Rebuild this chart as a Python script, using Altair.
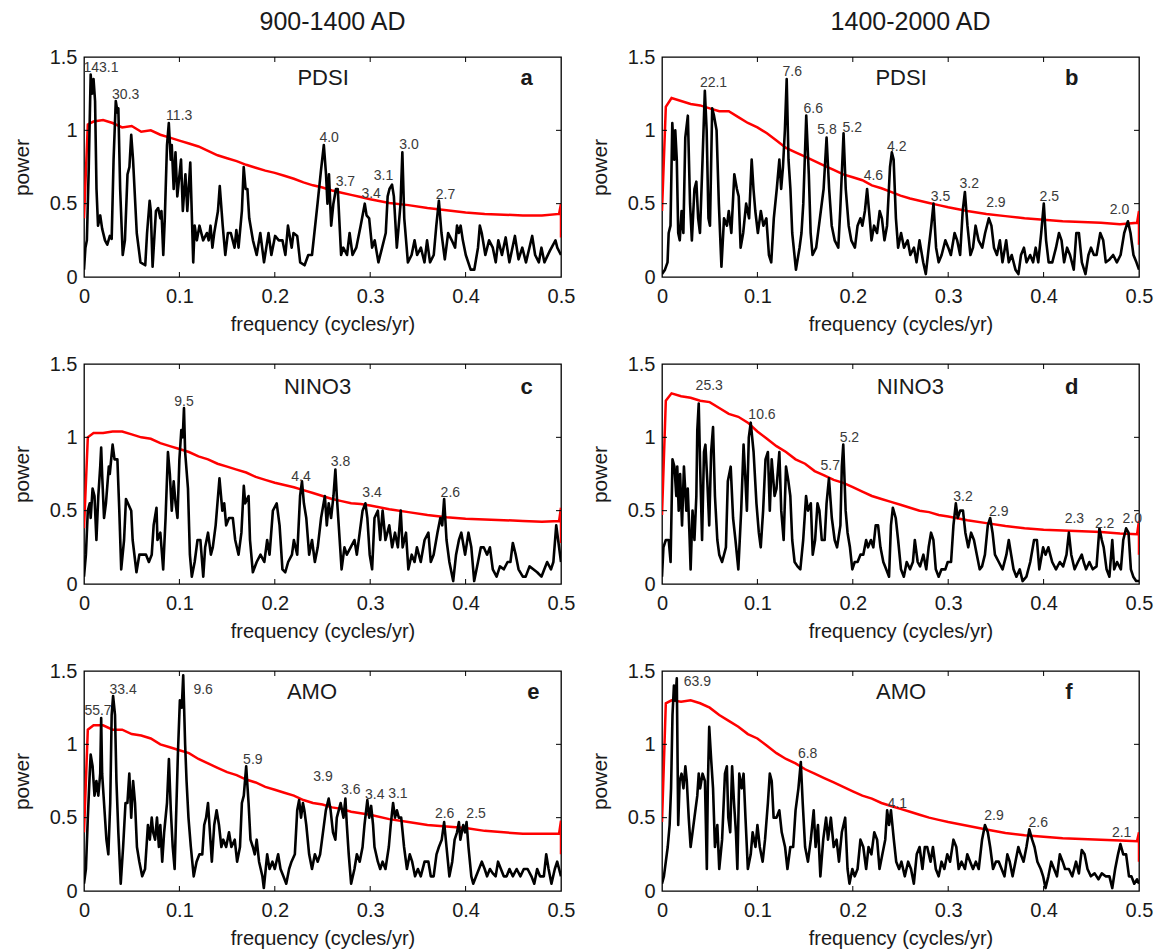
import altair as alt
import pandas as pd

FONT = "Liberation Sans"
TXT = "#1a1a1a"

X_TICK_LABELS = [0, 0.1, 0.2, 0.3, 0.4, 0.5]
Y_TICK_LABELS = [0, 0.5, 1.0, 1.5]
X_INNER_TICKS = [0.1, 0.2, 0.3, 0.4]
Y_INNER_TICKS = [0.5, 1.0]
COLUMN_TITLES = ["900-1400 AD", "1400-2000 AD"]

# red curve frequencies (shared by all panels)
RED_FREQ = [0, 0.004, 0.01, 0.02, 0.03, 0.04, 0.05, 0.06, 0.07, 0.08, 0.09, 0.1,
            0.11, 0.12, 0.13, 0.14, 0.15, 0.16, 0.17, 0.18, 0.19, 0.2, 0.21, 0.22,
            0.23, 0.24, 0.25, 0.26, 0.27, 0.28, 0.29, 0.3, 0.32, 0.34, 0.36, 0.38,
            0.4, 0.42, 0.44, 0.46, 0.48, 0.498, 0.5, 0.5]

# ---------------- panel a : PDSI 900-1400 ----------------
a_black = [(0, 0.05), (0.0015, 0.2), (0.003, 0.25), (0.005, 0.75), (0.007, 1.38), (0.0085, 1.25),
           (0.010, 1.35), (0.0116, 1.2), (0.0131, 0.6), (0.0147, 0.35), (0.017, 0.42), (0.019, 0.33),
           (0.022, 0.25), (0.0244, 0.22), (0.0271, 0.28), (0.029, 0.26), (0.031, 0.8), (0.0333, 1.2),
           (0.0352, 1.12), (0.036, 1.15), (0.0379, 0.6), (0.0406, 0.15), (0.0429, 0.25), (0.0456, 0.7),
           (0.0476, 0.75), (0.0495, 0.97), (0.0514, 0.8), (0.0553, 0.3), (0.0592, 0.1), (0.0642, 0.08),
           (0.0661, 0.3), (0.0688, 0.52), (0.070, 0.45), (0.0719, 0.07), (0.0754, 0.45), (0.0777, 0.47),
           (0.080, 0.4), (0.0812, 0.45), (0.0831, 0.15), (0.0847, 0.4), (0.087, 0.9), (0.0889, 1.05),
           (0.0909, 0.8), (0.092, 0.9), (0.094, 0.6), (0.0959, 0.85), (0.0978, 0.55), (0.1017, 0.8),
           (0.1036, 0.45), (0.1063, 0.7), (0.1083, 0.45), (0.1114, 0.78), (0.1145, 0.1), (0.116, 0.35),
           (0.1183, 0.25), (0.121, 0.35), (0.1249, 0.25), (0.1288, 0.3), (0.1307, 0.25), (0.1326, 0.35),
           (0.1346, 0.2), (0.1365, 0.3), (0.1404, 0.45), (0.1423, 0.62), (0.1454, 0.35), (0.1481, 0.15),
           (0.1508, 0.3), (0.1539, 0.3), (0.1578, 0.2), (0.1597, 0.32), (0.162, 0.2), (0.1655, 0.45),
           (0.1674, 0.75), (0.1694, 0.6), (0.1713, 0.6), (0.1732, 0.4), (0.1771, 0.25), (0.181, 0.15),
           (0.1848, 0.3), (0.1887, 0.1), (0.1934, 0.3), (0.1964, 0.15), (0.2003, 0.28), (0.2042, 0.25),
           (0.208, 0.25), (0.2111, 0.15), (0.2138, 0.35), (0.2177, 0.2), (0.2196, 0.3), (0.2235, 0.28),
           (0.2266, 0.1), (0.2312, 0.08), (0.2351, 0.15), (0.239, 0.15), (0.2448, 0.5), (0.2483, 0.72),
           (0.2514, 0.9), (0.2537, 0.7), (0.2552, 0.5), (0.2568, 0.7), (0.2591, 0.35), (0.2614, 0.5),
           (0.2641, 0.6), (0.266, 0.6), (0.2695, 0.15), (0.2718, 0.2), (0.2757, 0.15), (0.2784, 0.3),
           (0.2815, 0.15), (0.2854, 0.2), (0.29, 0.35), (0.2943, 0.5), (0.2962, 0.42), (0.2989, 0.4),
           (0.302, 0.2), (0.3047, 0.25), (0.3086, 0.1), (0.3125, 0.2), (0.3163, 0.3), (0.3183, 0.55),
           (0.3202, 0.6), (0.3229, 0.63), (0.3248, 0.55), (0.3279, 0.2), (0.3299, 0.35), (0.3318, 0.5),
           (0.3337, 0.85), (0.3357, 0.4), (0.3395, 0.1), (0.3434, 0.15), (0.3465, 0.25), (0.3492, 0.15),
           (0.3531, 0.2), (0.3569, 0.1), (0.3596, 0.25), (0.3627, 0.1), (0.3666, 0.15), (0.3693, 0.35),
           (0.372, 0.52), (0.3747, 0.3), (0.3782, 0.12), (0.3817, 0.3), (0.3855, 0.25), (0.389, 0.2),
           (0.391, 0.35), (0.3929, 0.3), (0.3948, 0.35), (0.3971, 0.25), (0.4002, 0.15), (0.4053, 0.05),
           (0.4091, 0.05), (0.413, 0.2), (0.4149, 0.35), (0.4169, 0.3), (0.4207, 0.15), (0.4246, 0.25),
           (0.4285, 0.2), (0.4316, 0.1), (0.4343, 0.25), (0.4381, 0.15), (0.442, 0.27), (0.4459, 0.1),
           (0.4517, 0.28), (0.4555, 0.12), (0.4594, 0.2), (0.4633, 0.1), (0.4698, 0.28), (0.4729, 0.15),
           (0.4768, 0.1), (0.4795, 0.2), (0.4826, 0.1), (0.4884, 0.18), (0.4942, 0.25), (0.4961, 0.2),
           (0.5, 0.15)]
a_red = [0.4, 1.04, 1.06, 1.07, 1.05, 1.02, 1.03, 0.99, 1.0, 0.97, 0.95, 0.93, 0.91, 0.89, 0.86,
         0.83, 0.81, 0.79, 0.765, 0.745, 0.725, 0.71, 0.69, 0.67, 0.645, 0.625, 0.61, 0.59, 0.575,
         0.56, 0.545, 0.53, 0.505, 0.49, 0.47, 0.455, 0.44, 0.43, 0.425, 0.42, 0.42, 0.43, 0.5, 0.27]
a_peaks = [("143.1", 0.0178, 1.425), ("30.3", 0.0437, 1.243), ("11.3", 0.0998, 1.098),
           ("4.0", 0.257, 0.948), ("3.7", 0.274, 0.648), ("3.4", 0.301, 0.568),
           ("3.1", 0.314, 0.689), ("3.0", 0.3407, 0.898), ("2.7", 0.379, 0.561)]

# ---------------- panel b : PDSI 1400-2000 ----------------
b_black = [(0, 0.02), (0.0031, 0.05), (0.0058, 0.1), (0.007, 0.3), (0.0089, 0.35), (0.0108, 1.05),
           (0.0128, 0.8), (0.0139, 1.0), (0.0155, 0.8), (0.017, 0.3), (0.0186, 0.25), (0.0205, 0.45),
           (0.0224, 0.3), (0.0244, 0.95), (0.0271, 1.1), (0.0294, 0.5), (0.0313, 0.25), (0.034, 0.6),
           (0.036, 0.65), (0.0379, 0.4), (0.0398, 0.3), (0.0425, 0.8), (0.0449, 1.27), (0.0468, 1.0),
           (0.0487, 0.4), (0.0503, 0.35), (0.0526, 1.15), (0.0545, 1.1), (0.0572, 1.0), (0.0596, 0.5),
           (0.0623, 0.07), (0.065, 0.4), (0.0681, 0.35), (0.07, 0.45), (0.0727, 0.3), (0.0758, 0.7),
           (0.0785, 0.6), (0.0804, 0.55), (0.0824, 0.2), (0.0851, 0.3), (0.0882, 0.5), (0.0913, 0.4),
           (0.094, 0.8), (0.0959, 0.6), (0.0978, 0.45), (0.1005, 0.3), (0.1036, 0.45), (0.1063, 0.35),
           (0.1094, 0.4), (0.1121, 0.15), (0.1145, 0.1), (0.1172, 0.4), (0.1203, 0.6), (0.123, 0.8),
           (0.1249, 0.6), (0.1268, 0.75), (0.1288, 1.0), (0.1307, 1.35), (0.1326, 0.8), (0.1346, 0.6),
           (0.1365, 0.3), (0.1404, 0.05), (0.1442, 0.2), (0.1462, 0.3), (0.1481, 0.5), (0.1512, 1.1),
           (0.1539, 0.7), (0.1558, 0.3), (0.1578, 0.15), (0.1616, 0.2), (0.1655, 0.4), (0.1694, 0.6),
           (0.1725, 0.95), (0.1752, 0.6), (0.1779, 0.35), (0.181, 0.25), (0.1848, 0.2), (0.1868, 0.45),
           (0.1903, 0.98), (0.1926, 0.6), (0.1957, 0.35), (0.1984, 0.25), (0.2022, 0.2), (0.205, 0.35),
           (0.208, 0.4), (0.21, 0.35), (0.2127, 0.45), (0.215, 0.6), (0.2177, 0.4), (0.2196, 0.25),
           (0.2223, 0.35), (0.2254, 0.3), (0.2282, 0.45), (0.2305, 0.4), (0.2332, 0.25), (0.2359, 0.35),
           (0.239, 0.75), (0.2409, 0.85), (0.2428, 0.8), (0.2452, 0.4), (0.2475, 0.2), (0.2506, 0.3),
           (0.2537, 0.2), (0.2575, 0.25), (0.2603, 0.15), (0.2641, 0.2), (0.2668, 0.1), (0.2699, 0.25),
           (0.2738, 0.1), (0.2765, 0.02), (0.2796, 0.2), (0.2823, 0.35), (0.2846, 0.5), (0.2873, 0.2),
           (0.29, 0.1), (0.2931, 0.15), (0.297, 0.25), (0.3001, 0.2), (0.3028, 0.15), (0.3067, 0.3),
           (0.3094, 0.25), (0.3125, 0.15), (0.3152, 0.45), (0.3175, 0.58), (0.3202, 0.35), (0.3233, 0.15),
           (0.326, 0.2), (0.3287, 0.35), (0.3318, 0.25), (0.3357, 0.2), (0.3387, 0.3), (0.3426, 0.4),
           (0.3453, 0.35), (0.348, 0.2), (0.3511, 0.15), (0.3542, 0.25), (0.3569, 0.1), (0.3608, 0.25),
           (0.3635, 0.1), (0.3666, 0.15), (0.3705, 0.05), (0.3736, 0.02), (0.3763, 0.15), (0.3794, 0.2),
           (0.3821, 0.1), (0.3859, 0.15), (0.389, 0.1), (0.3917, 0.2), (0.3944, 0.1), (0.3975, 0.3),
           (0.4002, 0.5), (0.4026, 0.25), (0.4053, 0.1), (0.4091, 0.1), (0.413, 0.2), (0.4161, 0.3),
           (0.4188, 0.25), (0.4215, 0.1), (0.4246, 0.2), (0.4277, 0.15), (0.4316, 0.05), (0.4343, 0.3),
           (0.437, 0.3), (0.4401, 0.1), (0.4439, 0.02), (0.447, 0.15), (0.4497, 0.2), (0.4528, 0.15),
           (0.4555, 0.15), (0.4594, 0.3), (0.4625, 0.25), (0.4652, 0.1), (0.4691, 0.12), (0.4729, 0.15),
           (0.4768, 0.1), (0.4807, 0.15), (0.4845, 0.3), (0.4884, 0.38), (0.4911, 0.3), (0.4942, 0.15),
           (0.4973, 0.1), (0.5, 0.05)]
b_red = [0.45, 1.16, 1.22, 1.2, 1.18, 1.17, 1.15, 1.13, 1.13, 1.09, 1.05, 1.02, 0.98, 0.93, 0.88,
         0.85, 0.82, 0.79, 0.76, 0.73, 0.7, 0.68, 0.66, 0.625, 0.605, 0.58, 0.555, 0.535, 0.52,
         0.505, 0.49, 0.475, 0.45, 0.43, 0.415, 0.4, 0.39, 0.38, 0.375, 0.37, 0.36, 0.37, 0.45, 0.22]
b_peaks = [("22.1", 0.054, 1.323), ("7.6", 0.1365, 1.398), ("6.6", 0.1585, 1.143),
           ("5.8", 0.173, 1.0), ("5.2", 0.1995, 1.016), ("4.6", 0.2216, 0.686),
           ("4.2", 0.246, 0.886), ("3.5", 0.292, 0.545), ("3.2", 0.322, 0.632),
           ("2.9", 0.350, 0.505), ("2.5", 0.406, 0.545), ("2.0", 0.4795, 0.455)]

# ---------------- panel c : NINO3 900-1400 ----------------
c_black = [(0, 0.05), (0.002, 0.2), (0.004, 0.5), (0.006, 0.55), (0.007, 0.45), (0.009, 0.65),
           (0.011, 0.6), (0.013, 0.3), (0.015, 0.6), (0.017, 0.8), (0.018, 0.93), (0.019, 0.75),
           (0.021, 0.45), (0.023, 0.55), (0.026, 0.8), (0.027, 0.75), (0.030, 0.95), (0.032, 0.85),
           (0.035, 0.85), (0.037, 0.5), (0.039, 0.1), (0.042, 0.3), (0.044, 0.58), (0.046, 0.55),
           (0.0495, 0.5), (0.051, 0.3), (0.055, 0.08), (0.058, 0.2), (0.061, 0.2), (0.065, 0.2),
           (0.068, 0.15), (0.071, 0.2), (0.073, 0.4), (0.076, 0.52), (0.077, 0.3), (0.080, 0.35),
           (0.083, 0.1), (0.0855, 0.45), (0.088, 0.9), (0.090, 0.75), (0.092, 0.5), (0.094, 0.7),
           (0.096, 0.55), (0.098, 0.45), (0.100, 0.85), (0.102, 1.05), (0.1035, 1.0), (0.1048, 1.2),
           (0.106, 0.9), (0.109, 0.65), (0.111, 0.2), (0.113, 0.05), (0.116, 0.15), (0.119, 0.3),
           (0.122, 0.3), (0.125, 0.05), (0.127, 0.25), (0.130, 0.35), (0.133, 0.2), (0.135, 0.25),
           (0.138, 0.4), (0.142, 0.72), (0.145, 0.5), (0.147, 0.55), (0.149, 0.4), (0.152, 0.45),
           (0.156, 0.45), (0.1585, 0.3), (0.162, 0.2), (0.165, 0.35), (0.1675, 0.67), (0.169, 0.55),
           (0.1725, 0.6), (0.174, 0.3), (0.177, 0.08), (0.181, 0.15), (0.185, 0.2), (0.189, 0.15),
           (0.192, 0.3), (0.1945, 0.2), (0.198, 0.5), (0.202, 0.55), (0.205, 0.4), (0.208, 0.1),
           (0.211, 0.08), (0.214, 0.15), (0.218, 0.2), (0.220, 0.3), (0.2235, 0.2), (0.2265, 0.6),
           (0.2285, 0.7), (0.2305, 0.55), (0.233, 0.45), (0.236, 0.2), (0.239, 0.3), (0.242, 0.15),
           (0.245, 0.25), (0.2485, 0.45), (0.2525, 0.6), (0.2545, 0.4), (0.2565, 0.55), (0.259, 0.45),
           (0.2615, 0.6), (0.2635, 0.78), (0.265, 0.6), (0.268, 0.3), (0.270, 0.1), (0.273, 0.25),
           (0.2755, 0.2), (0.2795, 0.25), (0.2835, 0.3), (0.286, 0.2), (0.289, 0.35), (0.292, 0.5),
           (0.295, 0.55), (0.297, 0.45), (0.2995, 0.2), (0.302, 0.1), (0.3045, 0.45), (0.308, 0.5),
           (0.3105, 0.3), (0.313, 0.5), (0.316, 0.3), (0.320, 0.4), (0.323, 0.25), (0.326, 0.35),
           (0.329, 0.25), (0.332, 0.5), (0.334, 0.25), (0.3375, 0.35), (0.340, 0.1), (0.3435, 0.2),
           (0.3465, 0.15), (0.349, 0.25), (0.353, 0.15), (0.357, 0.3), (0.361, 0.35), (0.3635, 0.15),
           (0.3665, 0.2), (0.3705, 0.35), (0.3735, 0.45), (0.3755, 0.4), (0.3775, 0.58), (0.380, 0.3),
           (0.383, 0.15), (0.387, 0.02), (0.390, 0.2), (0.393, 0.3), (0.3955, 0.35), (0.3995, 0.2),
           (0.403, 0.35), (0.406, 0.25), (0.409, 0.02), (0.413, 0.15), (0.416, 0.25), (0.419, 0.25),
           (0.4225, 0.2), (0.4255, 0.25), (0.4285, 0.1), (0.4325, 0.05), (0.436, 0.12), (0.440, 0.1),
           (0.444, 0.15), (0.447, 0.15), (0.4495, 0.28), (0.4525, 0.2), (0.4555, 0.1), (0.460, 0.05),
           (0.463, 0.05), (0.467, 0.12), (0.471, 0.1), (0.475, 0.08), (0.4795, 0.05), (0.4825, 0.1),
           (0.4855, 0.15), (0.4895, 0.1), (0.492, 0.15), (0.495, 0.4), (0.497, 0.3), (0.5, 0.15)]
c_red = [0.38, 1.0, 1.03, 1.03, 1.04, 1.04, 1.02, 1.0, 0.99, 0.96, 0.94, 0.92, 0.9, 0.87, 0.85,
         0.82, 0.8, 0.78, 0.76, 0.73, 0.71, 0.69, 0.675, 0.66, 0.64, 0.62, 0.6, 0.58, 0.565, 0.55,
         0.545, 0.535, 0.51, 0.49, 0.47, 0.455, 0.445, 0.44, 0.435, 0.43, 0.425, 0.43, 0.52, 0.28]
c_peaks = [("9.5", 0.1048, 1.239), ("4.4", 0.2274, 0.727), ("3.8", 0.2688, 0.83),
           ("3.4", 0.302, 0.62), ("2.6", 0.384, 0.62)]

# ---------------- panel d : NINO3 1400-2000 ----------------
d_black = [(0, 0.05), (0.0015, 0.25), (0.004, 0.3), (0.007, 0.3), (0.009, 0.15), (0.011, 0.85),
           (0.013, 0.8), (0.015, 0.6), (0.016, 0.8), (0.0175, 0.5), (0.019, 0.75), (0.021, 0.4),
           (0.023, 0.8), (0.0255, 0.5), (0.027, 0.65), (0.029, 0.3), (0.030, 0.1), (0.032, 0.5),
           (0.034, 0.3), (0.036, 0.6), (0.037, 1.05), (0.0385, 1.23), (0.040, 0.8), (0.042, 0.3),
           (0.044, 0.9), (0.0455, 0.95), (0.0475, 0.7), (0.0495, 0.4), (0.0515, 0.9), (0.0535, 1.07),
           (0.0555, 0.6), (0.058, 0.3), (0.060, 0.2), (0.063, 0.15), (0.067, 0.25), (0.069, 0.7),
           (0.072, 0.8), (0.0745, 0.45), (0.077, 0.3), (0.080, 0.1), (0.083, 0.5), (0.0855, 0.95),
           (0.0875, 0.7), (0.089, 0.5), (0.091, 1.0), (0.093, 1.1), (0.096, 0.9), (0.099, 0.55),
           (0.1015, 0.35), (0.1035, 0.25), (0.106, 0.5), (0.1085, 0.85), (0.111, 0.9), (0.113, 0.5),
           (0.115, 0.85), (0.118, 0.6), (0.120, 0.65), (0.123, 0.9), (0.125, 0.5), (0.1275, 0.3),
           (0.130, 0.8), (0.1325, 0.7), (0.1345, 0.6), (0.1365, 0.3), (0.139, 0.15), (0.142, 0.12),
           (0.145, 0.1), (0.148, 0.3), (0.151, 0.6), (0.153, 0.5), (0.156, 0.55), (0.158, 0.2),
           (0.1605, 0.3), (0.163, 0.55), (0.165, 0.5), (0.1675, 0.3), (0.1705, 0.3), (0.1725, 0.55),
           (0.175, 0.72), (0.178, 0.45), (0.181, 0.3), (0.1835, 0.25), (0.187, 0.4), (0.1885, 0.8),
           (0.190, 0.95), (0.1925, 0.5), (0.1945, 0.35), (0.197, 0.25), (0.1995, 0.1), (0.202, 0.15),
           (0.205, 0.15), (0.208, 0.2), (0.211, 0.2), (0.214, 0.3), (0.216, 0.25), (0.219, 0.3),
           (0.2215, 0.25), (0.224, 0.4), (0.2265, 0.4), (0.229, 0.25), (0.232, 0.15), (0.235, 0.1),
           (0.238, 0.05), (0.240, 0.4), (0.242, 0.52), (0.245, 0.45), (0.2475, 0.3), (0.2505, 0.1),
           (0.2535, 0.05), (0.2565, 0.15), (0.260, 0.1), (0.263, 0.15), (0.265, 0.3), (0.268, 0.15),
           (0.2705, 0.12), (0.274, 0.2), (0.277, 0.1), (0.2795, 0.25), (0.282, 0.35), (0.2845, 0.3),
           (0.287, 0.1), (0.290, 0.05), (0.293, 0.1), (0.297, 0.1), (0.2995, 0.15), (0.303, 0.15),
           (0.3055, 0.4), (0.308, 0.55), (0.310, 0.45), (0.3125, 0.5), (0.3155, 0.5), (0.318, 0.35),
           (0.321, 0.25), (0.324, 0.35), (0.327, 0.3), (0.330, 0.2), (0.333, 0.1), (0.3355, 0.12),
           (0.3385, 0.2), (0.3415, 0.4), (0.344, 0.45), (0.3465, 0.35), (0.349, 0.2), (0.353, 0.15),
           (0.357, 0.1), (0.361, 0.2), (0.3635, 0.3), (0.366, 0.2), (0.3685, 0.1), (0.3715, 0.05),
           (0.375, 0.1), (0.378, 0.02), (0.382, 0.05), (0.386, 0.15), (0.390, 0.3), (0.393, 0.3),
           (0.3955, 0.1), (0.3995, 0.25), (0.402, 0.2), (0.405, 0.25), (0.409, 0.15), (0.413, 0.1),
           (0.417, 0.15), (0.4205, 0.12), (0.424, 0.2), (0.4265, 0.35), (0.429, 0.2), (0.4325, 0.1),
           (0.436, 0.15), (0.440, 0.2), (0.442, 0.15), (0.4445, 0.1), (0.448, 0.15), (0.4515, 0.1),
           (0.4555, 0.12), (0.4585, 0.38), (0.461, 0.3), (0.463, 0.25), (0.466, 0.1), (0.469, 0.05),
           (0.472, 0.3), (0.474, 0.1), (0.477, 0.15), (0.481, 0.1), (0.4835, 0.3), (0.4865, 0.38),
           (0.489, 0.35), (0.4915, 0.1), (0.494, 0.05), (0.497, 0.02), (0.5, 0.02)]
d_red = [0.47, 1.25, 1.3, 1.28, 1.27, 1.25, 1.24, 1.2, 1.16, 1.14, 1.1, 1.04, 0.99, 0.94, 0.9,
         0.85, 0.82, 0.77, 0.74, 0.71, 0.69, 0.66, 0.63, 0.6, 0.58, 0.56, 0.54, 0.52, 0.5, 0.49,
         0.47, 0.46, 0.435, 0.415, 0.395, 0.38, 0.37, 0.365, 0.36, 0.355, 0.345, 0.34, 0.43, 0.2]
d_peaks = [("25.3", 0.0495, 1.348), ("10.6", 0.1048, 1.155), ("5.2", 0.1964, 0.993),
           ("5.7", 0.1763, 0.802), ("3.2", 0.3155, 0.591), ("2.9", 0.353, 0.489),
           ("2.3", 0.4323, 0.443), ("2.2", 0.464, 0.409), ("2.0", 0.493, 0.443)]

# ---------------- panel e : AMO 900-1400 ----------------
e_black = [(0, 0.05), (0.002, 0.15), (0.004, 0.5), (0.006, 0.8), (0.007, 0.93), (0.009, 0.85),
           (0.011, 0.65), (0.013, 0.75), (0.015, 0.65), (0.017, 0.8), (0.018, 1.18), (0.019, 0.8),
           (0.021, 0.6), (0.0235, 0.35), (0.0255, 0.25), (0.0275, 0.6), (0.029, 1.2), (0.0305, 1.33),
           (0.0325, 1.2), (0.034, 0.75), (0.036, 0.4), (0.0385, 0.05), (0.041, 0.3), (0.0435, 0.6),
           (0.0455, 0.6), (0.0475, 0.8), (0.0495, 0.5), (0.0515, 0.75), (0.0535, 0.6), (0.0555, 0.3),
           (0.058, 0.2), (0.061, 0.1), (0.064, 0.15), (0.067, 0.45), (0.069, 0.35), (0.071, 0.5),
           (0.0725, 0.4), (0.0745, 0.35), (0.0765, 0.5), (0.0785, 0.3), (0.080, 0.45), (0.082, 0.2),
           (0.084, 0.4), (0.087, 0.6), (0.089, 0.9), (0.091, 0.55), (0.093, 0.3), (0.095, 0.15),
           (0.0965, 0.5), (0.0985, 0.95), (0.1005, 1.3), (0.1025, 1.25), (0.104, 1.47), (0.106, 1.0),
           (0.1075, 0.75), (0.1095, 0.5), (0.112, 0.3), (0.115, 0.1), (0.118, 0.2), (0.121, 0.25),
           (0.124, 0.25), (0.126, 0.45), (0.128, 0.5), (0.130, 0.6), (0.132, 0.4), (0.134, 0.2),
           (0.1365, 0.45), (0.139, 0.55), (0.1415, 0.45), (0.144, 0.3), (0.146, 0.35), (0.149, 0.3),
           (0.152, 0.4), (0.1545, 0.3), (0.158, 0.35), (0.1605, 0.2), (0.1635, 0.3), (0.1655, 0.6),
           (0.1675, 0.65), (0.170, 0.85), (0.1725, 0.6), (0.1745, 0.35), (0.177, 0.3), (0.179, 0.25),
           (0.181, 0.35), (0.1835, 0.2), (0.187, 0.1), (0.1885, 0.02), (0.192, 0.25), (0.1945, 0.15),
           (0.1975, 0.2), (0.200, 0.15), (0.2035, 0.25), (0.206, 0.15), (0.209, 0.1), (0.212, 0.05),
           (0.215, 0.15), (0.2175, 0.2), (0.221, 0.25), (0.2235, 0.55), (0.2255, 0.62), (0.2275, 0.5),
           (0.2295, 0.6), (0.231, 0.55), (0.233, 0.45), (0.236, 0.25), (0.239, 0.15), (0.242, 0.25),
           (0.245, 0.2), (0.2475, 0.25), (0.2505, 0.4), (0.2535, 0.55), (0.2565, 0.63), (0.2585, 0.55),
           (0.261, 0.4), (0.2635, 0.35), (0.265, 0.5), (0.267, 0.55), (0.269, 0.6), (0.272, 0.5),
           (0.274, 0.63), (0.2755, 0.45), (0.2775, 0.25), (0.280, 0.05), (0.2835, 0.15), (0.286, 0.25),
           (0.289, 0.2), (0.292, 0.3), (0.294, 0.45), (0.297, 0.62), (0.299, 0.5), (0.301, 0.58),
           (0.303, 0.45), (0.3045, 0.3), (0.308, 0.2), (0.3105, 0.15), (0.313, 0.2), (0.316, 0.15),
           (0.3195, 0.3), (0.3215, 0.45), (0.324, 0.6), (0.326, 0.5), (0.328, 0.55), (0.330, 0.5),
           (0.3325, 0.5), (0.3355, 0.3), (0.3385, 0.15), (0.3415, 0.25), (0.344, 0.2), (0.347, 0.1),
           (0.350, 0.15), (0.353, 0.1), (0.357, 0.2), (0.361, 0.2), (0.3635, 0.1), (0.3665, 0.1),
           (0.3695, 0.25), (0.372, 0.3), (0.375, 0.35), (0.3775, 0.47), (0.380, 0.3), (0.383, 0.1),
           (0.386, 0.2), (0.3885, 0.35), (0.391, 0.4), (0.393, 0.47), (0.3945, 0.35), (0.3975, 0.45),
           (0.3995, 0.4), (0.401, 0.47), (0.403, 0.3), (0.406, 0.1), (0.408, 0.05), (0.411, 0.1),
           (0.414, 0.15), (0.417, 0.2), (0.420, 0.15), (0.4225, 0.1), (0.4255, 0.15), (0.4285, 0.12),
           (0.4315, 0.1), (0.434, 0.2), (0.437, 0.15), (0.440, 0.1), (0.443, 0.1), (0.446, 0.15),
           (0.4495, 0.1), (0.4535, 0.15), (0.4575, 0.1), (0.461, 0.15), (0.465, 0.15), (0.469, 0.1),
           (0.472, 0.05), (0.475, 0.15), (0.478, 0.1), (0.482, 0.1), (0.4845, 0.25), (0.487, 0.15),
           (0.490, 0.05), (0.4935, 0.15), (0.496, 0.2), (0.498, 0.15), (0.5, 0.1)]
e_red = [0.4, 1.1, 1.13, 1.13, 1.1, 1.1, 1.07, 1.06, 1.04, 1.0, 0.98, 0.96, 0.94, 0.9, 0.87,
         0.84, 0.81, 0.79, 0.76, 0.74, 0.71, 0.69, 0.67, 0.65, 0.62, 0.6, 0.59, 0.57, 0.56, 0.54,
         0.53, 0.52, 0.49, 0.47, 0.45, 0.44, 0.43, 0.41, 0.4, 0.39, 0.39, 0.39, 0.48, 0.25]
e_peaks = [("55.7", 0.0147, 1.227), ("33.4", 0.041, 1.37), ("9.6", 0.1249, 1.37),
           ("5.9", 0.177, 0.893), ("3.9", 0.2506, 0.78), ("3.6", 0.2796, 0.686),
           ("3.4", 0.3047, 0.652), ("3.1", 0.329, 0.659), ("2.6", 0.378, 0.527),
           ("2.5", 0.411, 0.527)]

# ---------------- panel f : AMO 1400-2000 ----------------
f_black = [(0, 0.05), (0.002, 0.1), (0.004, 0.2), (0.006, 0.3), (0.008, 0.45), (0.0095, 0.7),
           (0.011, 1.2), (0.0125, 1.4), (0.014, 1.3), (0.0155, 1.45), (0.017, 0.45), (0.0185, 0.75),
           (0.0205, 0.8), (0.0225, 0.7), (0.0245, 0.85), (0.026, 0.75), (0.028, 0.5), (0.030, 0.3),
           (0.032, 0.4), (0.034, 0.5), (0.037, 0.65), (0.0385, 0.8), (0.040, 0.7), (0.0425, 0.8),
           (0.045, 0.75), (0.047, 0.15), (0.048, 0.7), (0.0495, 1.12), (0.0515, 0.9), (0.0535, 0.7),
           (0.0555, 0.3), (0.058, 0.45), (0.060, 0.15), (0.063, 0.35), (0.066, 0.8), (0.068, 0.85),
           (0.0695, 0.5), (0.0715, 0.4), (0.0735, 0.85), (0.0755, 0.6), (0.0775, 0.4), (0.079, 0.15),
           (0.081, 0.8), (0.0835, 0.7), (0.0855, 0.8), (0.0875, 0.5), (0.090, 0.15), (0.093, 0.25),
           (0.095, 0.4), (0.098, 0.3), (0.100, 0.45), (0.1025, 0.3), (0.1055, 0.2), (0.108, 0.35),
           (0.111, 0.6), (0.113, 0.8), (0.115, 0.75), (0.117, 0.5), (0.120, 0.5), (0.123, 0.55),
           (0.1255, 0.4), (0.129, 0.3), (0.1315, 0.15), (0.1345, 0.3), (0.1375, 0.3), (0.140, 0.55),
           (0.143, 0.7), (0.1455, 0.88), (0.1475, 0.6), (0.150, 0.3), (0.153, 0.2), (0.156, 0.35),
           (0.159, 0.55), (0.161, 0.3), (0.1635, 0.45), (0.166, 0.1), (0.169, 0.35), (0.172, 0.5),
           (0.174, 0.35), (0.177, 0.5), (0.180, 0.3), (0.183, 0.35), (0.1855, 0.2), (0.1885, 0.4),
           (0.192, 0.5), (0.1945, 0.15), (0.1965, 0.05), (0.1995, 0.15), (0.202, 0.1), (0.205, 0.15),
           (0.208, 0.35), (0.211, 0.3), (0.214, 0.15), (0.2165, 0.3), (0.2195, 0.25), (0.2225, 0.4),
           (0.2255, 0.35), (0.228, 0.15), (0.231, 0.25), (0.234, 0.35), (0.236, 0.55), (0.238, 0.45),
           (0.240, 0.55), (0.243, 0.35), (0.2455, 0.2), (0.2485, 0.15), (0.251, 0.2), (0.2545, 0.1),
           (0.258, 0.2), (0.261, 0.15), (0.264, 0.05), (0.267, 0.25), (0.270, 0.3), (0.273, 0.15),
           (0.2755, 0.3), (0.278, 0.3), (0.2815, 0.2), (0.284, 0.3), (0.287, 0.15), (0.290, 0.1),
           (0.293, 0.2), (0.296, 0.15), (0.299, 0.25), (0.302, 0.2), (0.3055, 0.35), (0.3085, 0.3),
           (0.311, 0.15), (0.314, 0.2), (0.3175, 0.15), (0.320, 0.25), (0.323, 0.2), (0.326, 0.15),
           (0.329, 0.2), (0.332, 0.15), (0.3355, 0.35), (0.3385, 0.45), (0.3415, 0.4), (0.344, 0.3),
           (0.347, 0.15), (0.350, 0.2), (0.353, 0.2), (0.356, 0.15), (0.359, 0.1), (0.362, 0.25),
           (0.3645, 0.2), (0.3675, 0.1), (0.3705, 0.2), (0.3735, 0.3), (0.376, 0.25), (0.379, 0.2),
           (0.382, 0.3), (0.385, 0.42), (0.388, 0.35), (0.3905, 0.3), (0.3935, 0.2), (0.397, 0.15),
           (0.3995, 0.1), (0.402, 0.02), (0.405, 0.1), (0.408, 0.2), (0.411, 0.15), (0.414, 0.1),
           (0.417, 0.25), (0.420, 0.2), (0.4225, 0.15), (0.4265, 0.15), (0.430, 0.1), (0.434, 0.2),
           (0.437, 0.12), (0.440, 0.28), (0.443, 0.25), (0.446, 0.15), (0.4495, 0.1), (0.4535, 0.12),
           (0.4575, 0.08), (0.461, 0.12), (0.465, 0.1), (0.469, 0.1), (0.472, 0.02), (0.475, 0.15),
           (0.478, 0.25), (0.4805, 0.32), (0.4835, 0.25), (0.4865, 0.25), (0.4895, 0.1), (0.492, 0.1),
           (0.495, 0.05), (0.498, 0.08), (0.5, 0.05)]
f_red = [0.47, 1.28, 1.3, 1.29, 1.3, 1.28, 1.25, 1.2, 1.16, 1.12, 1.07, 1.04, 0.99, 0.94, 0.9,
         0.87, 0.83, 0.8, 0.77, 0.74, 0.71, 0.68, 0.65, 0.63, 0.6, 0.58, 0.56, 0.54, 0.52, 0.5,
         0.485, 0.47, 0.445, 0.42, 0.395, 0.38, 0.37, 0.36, 0.355, 0.35, 0.345, 0.34, 0.4, 0.2]
f_peaks = [("63.9", 0.0371, 1.425), ("6.8", 0.1527, 0.932), ("4.1", 0.2467, 0.591),
           ("2.9", 0.348, 0.511), ("2.6", 0.3944, 0.466), ("2.1", 0.4818, 0.398)]

# panel name, name position, letter, letter position
PANEL_NAMES = {
    "a": ("PDSI", 0.2506, 1.359, 0.464),
    "b": ("PDSI", 0.2506, 1.359, 0.4296),
    "c": ("NINO3", 0.2448, 1.34, 0.464),
    "d": ("NINO3", 0.2603, 1.34, 0.4296),
    "e": ("AMO", 0.239, 1.36, 0.471),
    "f": ("AMO", 0.2506, 1.36, 0.4265),
}

W, H = 477, 220


def panel(letter, black, red, peaks, title=None):
    xs = alt.Scale(domain=[0, 0.5], nice=False, zero=False)
    ys = alt.Scale(domain=[0, 1.5], nice=False, zero=False)
    xax = alt.Axis(values=X_TICK_LABELS, format="~g", title="frequency (cycles/yr)",
                   domain=False, ticks=False, grid=False, labelFont=FONT, labelFontSize=20,
                   labelColor=TXT, labelPadding=9, labelFlush=False, labelOverlap=False,
                   titleFont=FONT, titleFontSize=20, titleFontWeight="normal", titleColor=TXT,
                   titlePadding=8)
    yax = alt.Axis(values=Y_TICK_LABELS, format="~g", title="power",
                   domain=False, ticks=False, grid=False, labelFont=FONT, labelFontSize=20,
                   labelColor=TXT, labelPadding=7, labelFlush=False, labelOverlap=False,
                   titleFont=FONT, titleFontSize=21, titleFontWeight="normal", titleColor=TXT,
                   titlePadding=17)
    X = alt.X("f:Q", scale=xs, axis=xax)
    Y = alt.Y("p:Q", scale=ys, axis=yax)

    red_df = pd.DataFrame({"f": RED_FREQ, "p": red, "i": list(range(len(red)))})
    blk_df = pd.DataFrame(black, columns=["f", "p"])
    blk_df["i"] = list(range(len(blk_df)))
    pk_df = pd.DataFrame(peaks, columns=["t", "f", "p"])
    name, nf, npw, lf = PANEL_NAMES[letter]
    name_df = pd.DataFrame({"t": [name], "f": [nf], "p": [npw]})
    let_df = pd.DataFrame({"t": [letter], "f": [lf], "p": [npw]})
    xt_df = pd.DataFrame({"f": X_INNER_TICKS})
    yt_df = pd.DataFrame({"p": Y_INNER_TICKS})

    red_line = alt.Chart(red_df).mark_line(color="#ff0000", strokeWidth=2.5, clip=True).encode(
        x=X, y=Y, order="i:Q")
    black_line = alt.Chart(blk_df).mark_line(color="black", strokeWidth=2.6, strokeJoin="round",
                                             clip=True).encode(x=X, y=Y, order="i:Q")
    peak_txt = alt.Chart(pk_df).mark_text(font=FONT, fontSize=14, color="#3a3a3a",
                                          baseline="middle").encode(x=X, y=Y, text="t:N")
    name_txt = alt.Chart(name_df).mark_text(font=FONT, fontSize=22, color=TXT,
                                            baseline="middle").encode(x=X, y=Y, text="t:N")
    let_txt = alt.Chart(let_df).mark_text(font=FONT, fontSize=22, fontWeight="bold", color=TXT,
                                          baseline="middle").encode(x=X, y=Y, text="t:N")
    top_ticks = alt.Chart(xt_df).mark_rule(color="black", strokeWidth=1).encode(
        x=X, y=alt.value(0), y2=alt.value(5))
    bot_ticks = alt.Chart(xt_df).mark_rule(color="black", strokeWidth=1).encode(
        x=X, y=alt.value(H - 5), y2=alt.value(H))
    left_ticks = alt.Chart(yt_df).mark_rule(color="black", strokeWidth=1).encode(
        y=Y, x=alt.value(0), x2=alt.value(5))
    right_ticks = alt.Chart(yt_df).mark_rule(color="black", strokeWidth=1).encode(
        y=Y, x=alt.value(W - 5), x2=alt.value(W))

    ch = alt.layer(red_line, black_line, peak_txt, name_txt, let_txt,
                   top_ticks, bot_ticks, left_ticks, right_ticks).properties(width=W, height=H)
    if title:
        ch = ch.properties(title=alt.TitleParams(title, font=FONT, fontSize=25, fontWeight="normal",
                                                 color=TXT, anchor="middle", frame="group",
                                                 dx=10, offset=12))
    return ch


HSP = 12
row1 = alt.hconcat(panel("a", a_black, a_red, a_peaks, COLUMN_TITLES[0]),
                   panel("b", b_black, b_red, b_peaks, COLUMN_TITLES[1]), spacing=HSP)
row2 = alt.hconcat(panel("c", c_black, c_red, c_peaks),
                   panel("d", d_black, d_red, d_peaks), spacing=HSP)
row3 = alt.hconcat(panel("e", e_black, e_red, e_peaks),
                   panel("f", f_black, f_red, f_peaks), spacing=HSP)

chart = alt.vconcat(row1, row2, row3, spacing=18).properties(
    padding={"left": 10, "top": 9, "right": 5, "bottom": 5},
    background="white",
).configure_view(stroke="black", strokeWidth=1.3)

chart.save("out.html", embed_options={"renderer": "svg", "actions": False})
